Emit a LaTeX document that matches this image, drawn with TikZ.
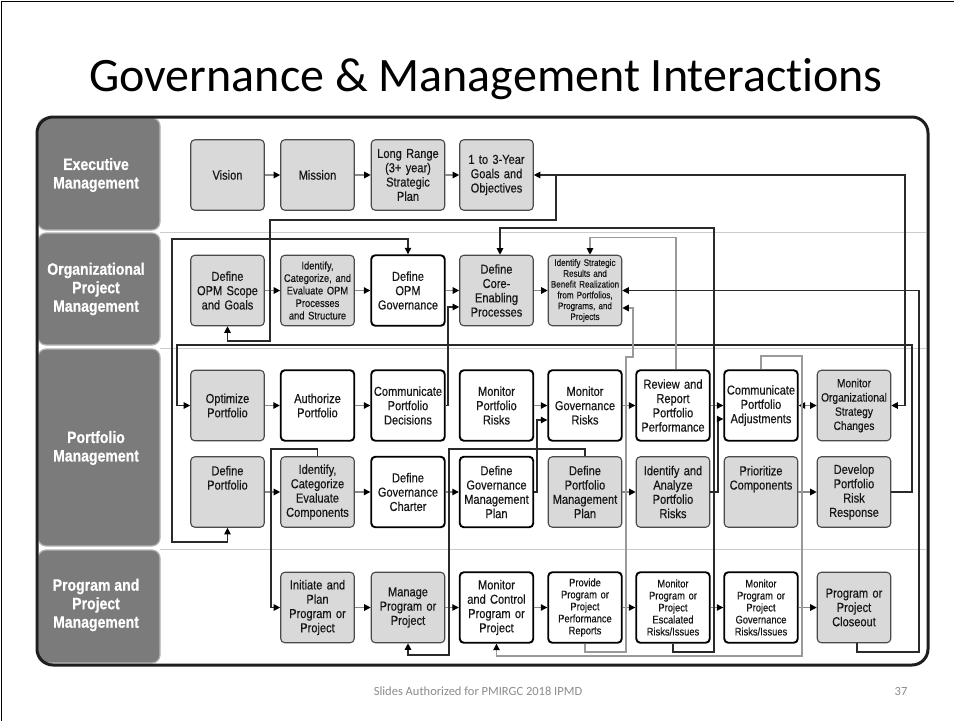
\documentclass[tikz,border=0pt]{standalone}
\usepackage{fontspec}
\setmainfont{Liberation Sans}
\newfontfamily\titlefont[Ligatures=NoCommon]{Carlito}
\newfontfamily\narrowfont[FakeStretch=0.85,FakeBold=0.4]{Liberation Sans}
\newfontfamily\labfont[FakeStretch=0.85,FakeBold=0.6]{Liberation Sans Bold}
\usetikzlibrary{arrows.meta,calc}
\definecolor{boxgray}{HTML}{D9D9D9}
\definecolor{boxedge}{HTML}{4A4A4A}
\definecolor{txt}{HTML}{161616}
\definecolor{labfill}{HTML}{7B7B7B}
\definecolor{labedge}{HTML}{B5B5B5}
\definecolor{colDark}{HTML}{2A2A2A}
\definecolor{colLight}{HTML}{9A9A9A}
\definecolor{colShort}{HTML}{8A8A8A}
\definecolor{sepline}{HTML}{CCCCCC}
\definecolor{framecol}{HTML}{1E1E1E}
\definecolor{footgray}{HTML}{8C8C8C}
\tikzset{
  >={Triangle[length=6.5pt,width=6.5pt,color=black]},
  box/.style={rounded corners=4pt, minimum width=73.5pt, minimum height=70.5pt,
    align=center, inner sep=0pt, text width=72pt, text=txt,
    font=\narrowfont\fontsize{13}{14.3}\selectfont},
  gbox/.style={box, fill=boxgray, draw=boxedge, line width=1.1pt},
  wbox/.style={box, fill=white, draw=black, line width=1.9pt},
  smtext/.style={font=\narrowfont\fontsize{11}{12}\selectfont},
  mdtext/.style={font=\narrowfont\fontsize{11}{12.5}\selectfont},
  xstext/.style={font=\narrowfont\fontsize{9.5}{10.8}\selectfont},
  labbox/.style={rounded corners=8pt, fill=labfill, draw=labedge, line width=1.2pt,
    minimum width=122pt, inner sep=0pt},
  labtext/.style={text=white, align=center,
    font=\labfont\fontsize{16.5}{18.5}\selectfont},
  shortarr/.style={draw=colShort, line width=1.2pt, ->},
  darkc/.style={draw=colDark, line width=1.1pt},
  lightc/.style={draw=colLight, line width=1.1pt},
}
\begin{document}
\begin{tikzpicture}[x=1pt,y=-1pt]
\useasboundingbox (0,0) rectangle (954,721);
\fill[white] (0,0) rectangle (954,721);
\draw[black, line width=1.2pt] (1.5,721) -- (1.5,1.5) -- (954,1.5);

% title and footer
\node[anchor=base, text=black, font=\titlefont\fontsize{48}{58}\selectfont] (title) at (486,91) {Governance \& Management Interactions};
\node[anchor=base, text=footgray, font=\titlefont\fontsize{12.5}{15}\selectfont] (foot) at (478,695) {Slides Authorized for PMIRGC 2018 IPMD};
\node[anchor=base, text=footgray, font=\titlefont\fontsize{12.5}{15}\selectfont] (pagenum) at (901,695) {37};

% left lane labels
\node[labbox, minimum height=112pt] (lexec) at (99,174) {};
\node[labbox, minimum height=112pt] (lorg) at (99,289) {};
\node[labbox, minimum height=197pt] (lport) at (99,447.5) {};
\node[labbox, minimum height=113pt] (lprog) at (99,606.5) {};
\node[labtext] (texec) at (96,175) {Executive\\Management};
\node[labtext] (torg) at (96,289) {Organizational\\Project\\Management};
\node[labtext] (tport) at (96,448) {Portfolio\\Management};
\node[labtext] (tprog) at (96,605) {Program and\\Project\\Management};

% lane separators
\draw[sepline, line width=1pt] (160,232.5) -- (926,232.5);
\draw[sepline, line width=1pt] (160,348) -- (926,348);
\draw[sepline, line width=1pt] (160,549) -- (926,549);

% outer frame
\draw[framecol, line width=3pt, rounded corners=16pt] (37,117) rectangle (928,665);

% Executive row
\node[gbox] (vision) at (227.5,175) {Vision};
\node[gbox] (mission) at (317.5,175) {Mission};
\node[gbox] (lrange) at (408,175) {Long Range\\(3+ year)\\Strategic\\Plan};
\node[gbox] (goals) at (496.5,175) {1 to 3-Year\\Goals and\\Objectives};

% OPM row
\node[gbox] (opmscope) at (227.5,290.5) {Define\\OPM Scope\\and Goals};
\node[gbox, mdtext] (opmproc) at (317.5,290.5) {Identify,\\Categorize, and\\Evaluate OPM\\Processes\\and Structure};
\node[wbox] (opmgov) at (408,290.5) {Define\\OPM\\Governance};
\node[gbox] (coreen) at (496.5,290.5) {Define\\Core-\\Enabling\\Processes};
\node[gbox, xstext] (strat) at (585,290.5) {Identify Strategic\\Results and\\Benefit Realization\\from Portfolios,\\Programs, and\\Projects};

% Portfolio row 1
\node[gbox] (optimize) at (227.5,405.5) {Optimize\\Portfolio};
\node[wbox] (authorize) at (317.5,405.5) {Authorize\\Portfolio};
\node[wbox] (commdec) at (408,405.5) {Communicate\\Portfolio\\Decisions};
\node[wbox] (monrisk) at (496.5,405.5) {Monitor\\Portfolio\\Risks};
\node[wbox] (mongov) at (585,405.5) {Monitor\\Governance\\Risks};
\node[wbox] (review) at (673,405.5) {Review and\\Report\\Portfolio\\Performance};
\node[wbox] (commadj) at (761,405.5) {Communicate\\Portfolio\\Adjustments};
\node[gbox, font=\narrowfont\fontsize{12}{14.2}\selectfont] (monorg) at (854,405.5) {Monitor\\Organizational\\Strategy\\Changes};

% Portfolio row 2
\node[gbox] (defport) at (227.5,492) {Define\\Portfolio\\~\\~};
\node[gbox] (idcomp) at (317.5,492) {Identify,\\Categorize\\Evaluate\\Components};
\node[wbox] (govchart) at (408,492) {Define\\Governance\\Charter\\[3pt]};
\node[wbox] (govmp) at (496.5,492) {Define\\Governance\\Management\\Plan};
\node[gbox] (defpmp) at (585,492) {Define\\Portfolio\\Management\\Plan};
\node[gbox] (idanal) at (673,492) {Identify and\\Analyze\\Portfolio\\Risks};
\node[gbox] (prior) at (761,492) {Prioritize\\Components\\~\\~};
\node[gbox] (devrisk) at (854,492) {Develop\\Portfolio\\Risk\\Response};

% Program and project row
\node[gbox] (initiate) at (317.5,607.5) {Initiate and\\Plan\\Program or\\Project};
\node[gbox] (manage) at (408,607.5) {Manage\\Program or\\Project};
\node[wbox] (moncontrol) at (496.5,607.5) {Monitor\\and Control\\Program or\\Project};
\node[wbox, smtext] (provide) at (585,607.5) {Provide\\Program or\\Project\\Performance\\Reports};
\node[wbox, smtext] (monesc) at (673,607.5) {Monitor\\Program or\\Project\\Escalated\\Risks/Issues};
\node[wbox, smtext] (mongovri) at (761,607.5) {Monitor\\Program or\\Project\\Governance\\Risks/Issues};
\node[gbox] (closeout) at (854,607.5) {Program or\\Project\\Closeout};

% short arrows between neighbours
\foreach \a/\b in {vision/mission, mission/lrange, lrange/goals,
  opmscope/opmproc, opmproc/opmgov, opmgov/coreen, coreen/strat,
  optimize/authorize, authorize/commdec, monrisk/mongov, mongov/review, review/commadj,
  defport/idcomp, idcomp/govchart, govchart/govmp, defpmp/idanal, prior/devrisk,
  initiate/manage, manage/moncontrol, moncontrol/provide, provide/monesc,
  monesc/mongovri, mongovri/closeout}
  \draw[shortarr] (\a) -- (\b);
\draw[draw=colShort, line width=1.2pt, <->] (commadj) -- (monorg);

% long connectors
\coordinate (j1) at (556,175);
\draw[darkc,<->] (goals.east) -- (905,175) -- (905,405.5) -- (monorg.east);
\draw[darkc,->] (j1) -- (556,220) -- (270,220) -- (270,341) -| (opmscope.south);
\draw[darkc,<->] (opmgov.north) |- (172,239) -- (172,542) -| (defport.south);
\draw[darkc,->] (devrisk.east) -| (912,345) -- (177,345) |- (optimize.west);
\draw[darkc,->] (monesc.south) |- (714,652) -- (714,228) -| ($(coreen.north)+(3.5,0)$);
\draw[lightc,->] ($(review.north)+(3,0)$) |- ($(strat.north)+(5,-17)$) -- ($(strat.north)+(5,0)$);
\draw[darkc,->] ($(closeout.south)+(3,0)$) |- (919,652) -- (919,290.5) -- (strat.east);
\draw[lightc,->] (provide.south) |- (626,652) -- (626,357) -- (633,357) |- ($(strat.east)+(0,17.5)$);
\draw[darkc,->] (commdec.east) -| (448,307) -- ($(coreen.west)+(0,16.5)$);
\draw[darkc,->] (defpmp.north) |- (449,449) -- (449,655) -| (manage.south);
\draw[lightc,->] (commadj.north) |- (802,356) -- (802,656) -| (moncontrol.south);
\draw[darkc,->] (govmp.east) -| (537,420) -- ($(mongov.west)+(0,14.5)$);
\draw[darkc,->] (idcomp.north) |- (271,449) |- (initiate.west);
\draw[darkc,->] (idanal.east) -| (718,419) -- ($(commadj.west)+(0,13.5)$);
\end{tikzpicture}
\end{document}
